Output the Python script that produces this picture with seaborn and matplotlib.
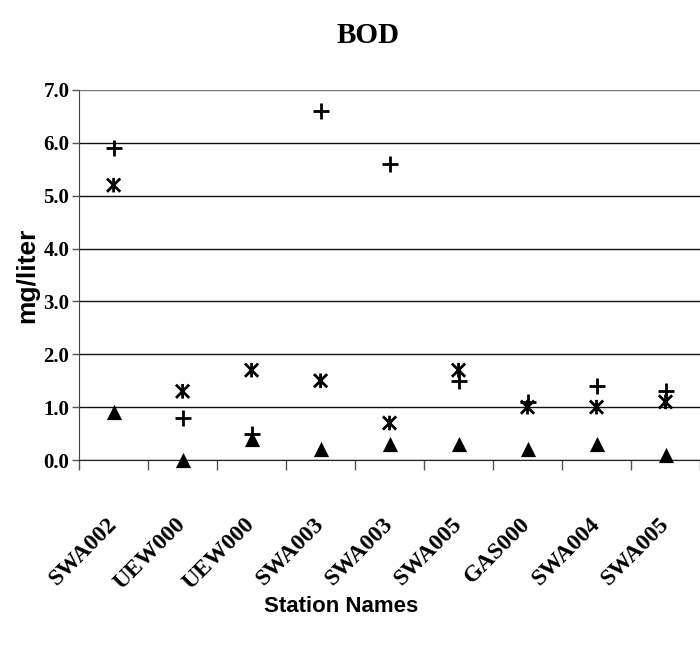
import numpy as np
import pandas as pd
import seaborn as sns
import matplotlib.pyplot as plt
from matplotlib.path import Path

# datos (mg/liter)
estaciones = ["SWA002", "UEW000", "UEW000", "SWA003", "SWA003",
              "SWA005", "GAS000", "SWA004", "SWA005"]
serie_cruz = [5.9, 0.8, 0.5, 6.6, 5.6, 1.5, 1.1, 1.4, 1.3]
serie_estrella = [5.2, 1.3, 1.7, 1.5, 0.7, 1.7, 1.0, 1.0, 1.1]
serie_triangulo = [0.9, 0.0, 0.4, 0.2, 0.3, 0.3, 0.2, 0.3, 0.1]
yticks = [0.0, 1.0, 2.0, 3.0, 4.0, 5.0, 6.0, 7.0]

pos = np.arange(len(estaciones))
df = pd.DataFrame({
    "pos": np.tile(pos, 3),
    "valor": serie_cruz + serie_estrella + serie_triangulo,
    "serie": ["cruz"] * 9 + ["estrella"] * 9 + ["triangulo"] * 9,
})

sns.set_style("white")
plt.rcParams["font.family"] = ["Liberation Serif", "DejaVu Serif"]
plt.rcParams["text.color"] = "black"
plt.rcParams["xtick.color"] = "black"
plt.rcParams["ytick.color"] = "black"
plt.rcParams["axes.labelcolor"] = "black"

fig = plt.figure(figsize=(7, 6.54), dpi=100)
ax = fig.add_axes([0.113, 0.2966, 0.887, 0.5658])

# marcador estrella: X con linea vertical
estrella = Path([(-1, -1), (1, 1), (-1, 1), (1, -1), (0, -1.1), (0, 1.1)],
                [Path.MOVETO, Path.LINETO] * 3)

sns.scatterplot(data=df[df.serie == "cruz"], x="pos", y="valor", marker="+",
                s=120, color="black", linewidth=2, ax=ax, zorder=3, clip_on=False)
sns.scatterplot(data=df[df.serie == "estrella"], x="pos", y="valor", marker=estrella,
                s=110, facecolor="none", edgecolor="black", linewidth=2, ax=ax, zorder=3,
                clip_on=False)
sns.scatterplot(data=df[df.serie == "triangulo"], x="pos", y="valor", marker="^",
                s=120, color="black", edgecolor="black", linewidth=0, ax=ax, zorder=3,
                clip_on=False)

ax.set_xlim(-0.5, len(estaciones) - 0.5)
ax.set_ylim(0, 7)
ax.set_yticks(yticks, [f"{v:.1f}" for v in yticks], fontsize=15, fontweight="bold")
ax.set_xticks(pos, estaciones, rotation=45, ha="right", va="center",
              rotation_mode="anchor", fontsize=17, fontweight="bold")
ax.set_xticks(np.arange(-0.5, len(estaciones)), minor=True)
ax.tick_params(axis="x", which="major", length=0, pad=44)
ax.tick_params(axis="x", which="minor", length=7, width=1, color="#555555", direction="out", bottom=True)
ax.tick_params(axis="y", length=5, width=1, color="#555555", direction="out", left=True, pad=2)

ax.yaxis.grid(True, color="#111111", linewidth=1)
ax.set_axisbelow(True)
for s in ["top", "right"]:
    ax.spines[s].set_visible(False)
ax.spines["left"].set_color("#444444")
ax.spines["bottom"].set_color("#222222")
ax.get_ygridlines()[-1].set_color("#777777")

ax.set_ylabel("mg/liter", family="Liberation Sans", fontweight="bold", fontsize=19, labelpad=3)
ax.set_xlabel("")
fig.text(0.487, 0.072, "Station Names", family="Liberation Sans", fontweight="bold",
         fontsize=16, ha="center", va="center")
fig.text(0.526, 0.946, "BOD", fontweight="bold", fontsize=21, ha="center", va="center")

fig.savefig("out.png", dpi=100)
